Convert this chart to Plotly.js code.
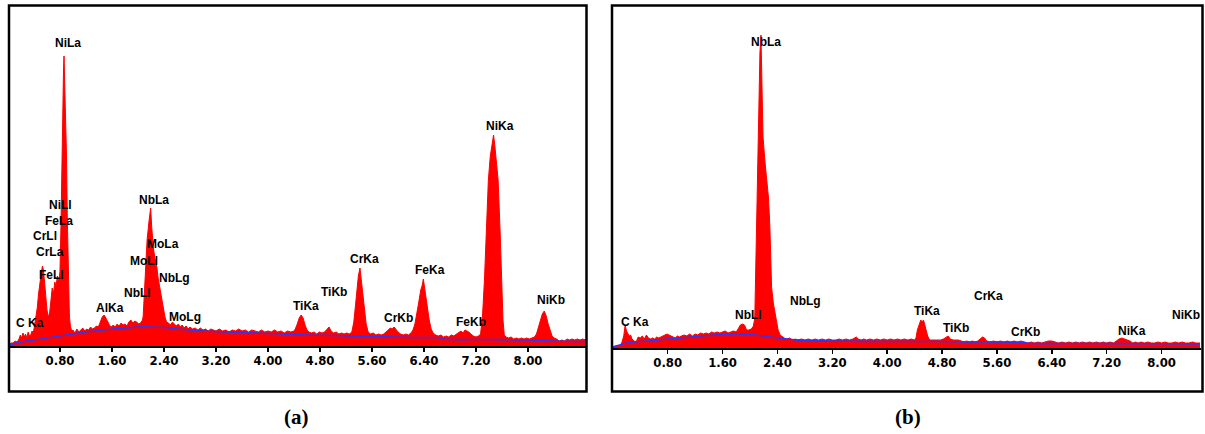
<!DOCTYPE html>
<html>
<head>
<meta charset="utf-8">
<script src="https://cdn.plot.ly/plotly-3.0.1.min.js"></script>
<style>html,body{margin:0;padding:0;background:#fff;}#chart{width:1205px;height:434px;}</style>
</head>
<body>
<div id="chart"></div>
<script>
// ---------- Panel (a) spectrum: energy (keV) and intensity ----------
var energyA = [0.02,0.05,0.08,0.11,0.14,0.17,0.19,0.21,0.23,0.25,0.27,0.29,0.31,0.33,0.35,0.37,0.39,0.41,0.43,0.45,0.47,0.49,0.51,0.53,0.545,0.56,0.58,0.60,0.62,0.64,0.66,0.68,0.70,0.72,0.74,0.76,0.78,0.80,0.815,0.826,0.838,0.854,0.862,0.872,0.885,0.90,0.912,0.93,0.945,0.96,0.98,1.00,1.03,1.06,1.09,1.12,1.15,1.18,1.21,1.24,1.27,1.30,1.33,1.36,1.39,1.42,1.45,1.48,1.50,1.53,1.56,1.59,1.62,1.65,1.68,1.71,1.74,1.77,1.80,1.83,1.86,1.89,1.92,1.95,1.98,2.01,2.04,2.07,2.08,2.11,2.14,2.17,2.195,2.21,2.235,2.26,2.29,2.31,2.34,2.365,2.39,2.415,2.44,2.47,2.50,2.53,2.56,2.59,2.62,2.65,2.68,2.71,2.74,2.77,2.80,2.84,2.88,2.92,2.96,3.00,3.04,3.08,3.12,3.16,3.20,3.25,3.30,3.35,3.40,3.45,3.50,3.55,3.60,3.65,3.70,3.75,3.80,3.85,3.90,3.95,4.00,4.05,4.10,4.15,4.20,4.25,4.30,4.35,4.40,4.42,4.45,4.48,4.51,4.54,4.57,4.60,4.63,4.67,4.71,4.75,4.79,4.83,4.87,4.91,4.94,4.97,5.01,5.05,5.09,5.13,5.17,5.21,5.25,5.29,5.32,5.345,5.37,5.39,5.415,5.44,5.46,5.48,5.51,5.54,5.58,5.62,5.66,5.70,5.74,5.78,5.82,5.85,5.88,5.91,5.94,5.97,6.00,6.04,6.08,6.12,6.16,6.20,6.23,6.26,6.29,6.32,6.35,6.37,6.39,6.41,6.43,6.45,6.48,6.51,6.54,6.58,6.62,6.66,6.70,6.74,6.78,6.82,6.86,6.90,6.94,6.97,7.00,7.03,7.06,7.09,7.12,7.16,7.20,7.24,7.27,7.30,7.33,7.36,7.39,7.42,7.45,7.47,7.49,7.51,7.54,7.57,7.595,7.615,7.635,7.66,7.70,7.74,7.78,7.82,7.86,7.90,7.94,7.98,8.02,8.06,8.10,8.13,8.16,8.19,8.22,8.25,8.28,8.31,8.34,8.37,8.40,8.44,8.48,8.52,8.56,8.60,8.64,8.68,8.72,8.76,8.80,8.84,8.89];
var countsA = [2,3,3,5,4,7,11,8,13,9,12,8,14,10,11,15,13,20,27,38,52,64,72,80,76,66,50,36,29,33,45,58,52,64,60,70,64,75,120,178,230,275,290,268,240,190,130,60,30,20,15,16,13,17,14,16,18,15,17,16,19,17,18,20,19,24,29,31,28,25,21,19,21,19,22,20,23,21,22,20,24,26,23,25,24,22,23,26,30,73,106,125,138,120,99,88,79,68,56,45,36,29,24,23,21,24,22,20,22,19,21,18,20,17,19,17,18,16,18,16,17,15,17,16,15,17,15,16,14,16,15,17,15,16,14,16,15,14,16,14,15,14,16,14,15,13,15,14,15,17,22,28,31,28,21,16,14,13,14,12,14,13,14,17,19,15,13,14,12,13,12,13,12,14,24,40,58,70,78,64,48,36,22,14,12,13,11,12,11,12,14,16,18,17,19,16,14,12,11,12,11,13,16,22,32,44,56,60,67,58,50,38,26,17,13,11,10,11,9,10,9,11,10,12,14,15,13,16,15,14,12,10,9,10,12,30,66,116,166,190,205,211,200,185,166,116,66,26,11,9,8,9,7,8,7,8,7,8,7,8,9,12,18,26,32,35,30,22,15,10,8,7,5,6,5,7,6,7,6,7,6,7,6];
// Panel (a) background fit
var bgEnergyA = [0.02,0.2,0.4,0.6,0.8,1.0,1.2,1.4,1.6,1.8,2.0,2.2,2.4,2.6,2.8,3.0,3.4,3.8,4.2,4.6,5.0,5.6,6.2,6.66,6.7,7.4,8.0,8.4,8.89];
var bgCountsA = [1,4,6,8,10,12,14,15.5,17,18,19,19,18.5,17,16,15,14,13,12,11,10.5,9.5,8.5,8,7,6.5,6,5,4.5];
// Panel (a) peak labels
var labelsA = ["NiLa","NiLl","FeLa","CrLl","CrLa","FeLl","C Ka","AlKa","NbLl","NbLa","MoLa","MoLl","NbLg","MoLg","TiKa","TiKb","CrKa","CrKb","FeKa","FeKb","NiKa","NiKb"];
var labelXA = [0.923,0.815,0.785,0.569,0.646,0.677,0.346,1.569,1.985,2.246,2.385,2.10,2.554,2.723,4.585,5.015,5.492,6.015,6.492,7.123,7.569,8.346];
var labelYA = [303,141,125,110,94,71,23,38,53,146,102,85,68,29,40,54,87,28,76,24,220,46];

// ---------- Panel (b) spectrum ----------
var energyB = [0.00,0.05,0.10,0.13,0.16,0.18,0.20,0.22,0.24,0.26,0.28,0.31,0.34,0.37,0.40,0.43,0.46,0.49,0.52,0.55,0.58,0.61,0.64,0.67,0.70,0.73,0.76,0.79,0.82,0.85,0.88,0.91,0.94,0.97,1.00,1.04,1.08,1.12,1.16,1.20,1.24,1.28,1.32,1.36,1.40,1.44,1.48,1.52,1.56,1.60,1.64,1.68,1.72,1.76,1.80,1.83,1.86,1.89,1.92,1.95,1.98,2.02,2.05,2.07,2.10,2.12,2.145,2.16,2.175,2.19,2.22,2.24,2.27,2.29,2.315,2.34,2.365,2.39,2.41,2.44,2.47,2.50,2.54,2.58,2.62,2.66,2.70,2.75,2.80,2.85,2.90,2.95,3.00,3.05,3.10,3.15,3.20,3.25,3.30,3.35,3.40,3.45,3.50,3.55,3.58,3.62,3.66,3.70,3.75,3.80,3.85,3.90,3.95,4.00,4.05,4.10,4.15,4.20,4.25,4.30,4.35,4.40,4.42,4.44,4.47,4.49,4.51,4.53,4.56,4.59,4.62,4.66,4.70,4.74,4.78,4.82,4.86,4.89,4.92,4.96,5.00,5.04,5.08,5.12,5.16,5.20,5.24,5.28,5.32,5.36,5.39,5.42,5.45,5.50,5.55,5.60,5.65,5.70,5.75,5.80,5.85,5.90,5.95,6.00,6.05,6.10,6.15,6.20,6.25,6.30,6.35,6.40,6.45,6.50,6.55,6.60,6.65,6.70,6.75,6.80,6.85,6.90,6.95,7.00,7.05,7.10,7.15,7.20,7.25,7.30,7.34,7.38,7.42,7.46,7.50,7.54,7.58,7.62,7.66,7.70,7.75,7.80,7.85,7.90,7.95,8.00,8.05,8.10,8.15,8.20,8.25,8.30,8.35,8.40,8.45,8.50,8.56];
var countsB = [1,2,2,5,12,23,17,15,12,13,9,7,6,11,10,12,9,13,10,9,10,9,11,10,11,12,13,14,13,12,11,10,12,11,12,13,12,14,12,14,13,15,14,15,14,16,15,16,15,16,17,15,16,17,16,19,23,24,23,18,18,19,22,30,128,228,295,313,260,211,185,171,150,121,61,45,35,24,18,13,11,10,9,10,8,9,8,9,8,9,8,9,8,9,8,9,8,8,9,8,9,8,9,11,9,8,9,8,9,8,9,8,9,8,9,8,9,8,9,8,9,8,10,18,24,28,26,28,20,12,8,8,8,8,8,9,11,12,9,8,8,8,7,6,7,6,7,6,7,9,11,10,7,6,7,6,7,6,7,6,7,6,7,6,5,6,5,6,5,6,7,7,6,5,6,5,6,5,6,5,6,5,6,5,6,5,6,5,6,5,7,9,10,9,8,7,5,6,5,6,5,6,5,5,6,5,6,5,5,6,5,6,5,5,6,5,5];
var bgEnergyB = [0.00,0.1,0.2,0.4,0.6,0.8,1.0,1.2,1.4,1.6,1.8,2.0,2.2,2.4,2.6,2.8,3.2,4.0,4.6,5.0,5.1,6.0,6.05,7.0,8.0,8.56];
var bgCountsB = [1,3,5,6.5,7.5,9,10,11.5,12.5,13.5,14,13.5,12,10,8.5,7.5,7,6.5,6.5,6.3,6,5.5,4.8,4.5,4.2,4];
var labelsB = ["NbLa","C Ka","NbLl","NbLg","TiKa","TiKb","CrKa","CrKb","NiKa","NiKb"];
var labelXB = [2.233,0.324,1.971,2.816,4.587,5.0,5.484,6.023,7.576,8.356];
var labelYB = [306,26,33,47,37,20,52,16,17,33];

// ---------- Axis ticks ----------
var tickValues = [0.8,1.6,2.4,3.2,4.0,4.8,5.6,6.4,7.2,8.0];
var tickLabels = ["0.80","1.60","2.40","3.20","4.00","4.80","5.60","6.40","7.20","8.00"];
var panelCaptions = ["(a)","(b)"];

// ---------- Build ----------
var W = 1205, H = 434;
function px(x){return x / W;}
function py(y){return 1 - y / H;}

var red = "#ff0000", blue = "#3434f0";
var traces = [
  {x: energyA, y: countsA, xaxis:"x", yaxis:"y", type:"scatter", mode:"lines", fill:"tozeroy",
   fillcolor: red, line:{color: red, width:1}, hoverinfo:"skip"},
  {x: bgEnergyA, y: bgCountsA, xaxis:"x", yaxis:"y", type:"scatter", mode:"lines",
   line:{color: blue, width:1.6, shape:"spline"}, hoverinfo:"skip"},
  {x: energyB, y: countsB, xaxis:"x2", yaxis:"y2", type:"scatter", mode:"lines", fill:"tozeroy",
   fillcolor: red, line:{color: red, width:1}, hoverinfo:"skip"},
  {x: bgEnergyB, y: bgCountsB, xaxis:"x2", yaxis:"y2", type:"scatter", mode:"lines",
   line:{color: blue, width:1.6, shape:"spline"}, hoverinfo:"skip"}
];

var tickFont = {family:"'Liberation Sans Narrow','Arial Narrow','DejaVu Sans Condensed',sans-serif", size:13, color:"#000", weight:"bold"};
var labelFont = {family:"'Liberation Sans',Arial,sans-serif", size:12, color:"#000", weight:"bold"};

function xAxis(domain, range, anchor){
  return {domain: domain, range: range, anchor: anchor, showgrid:false, zeroline:false,
    showline:true, linecolor:"#000", linewidth:2, ticks:"outside", ticklen:4, tickwidth:1.5,
    tickcolor:"#000", tickmode:"array", tickvals: tickValues, ticktext: tickLabels,
    tickfont: tickFont, ticklabelstandoff:-3, fixedrange:true};
}

var annotations = [];
labelsA.forEach(function(t,i){
  annotations.push({text:t, x:labelXA[i], y:labelYA[i], xref:"x", yref:"y", showarrow:false,
    xanchor:"center", yanchor:"middle", font:labelFont});
});
labelsB.forEach(function(t,i){
  annotations.push({text:t, x:labelXB[i], y:labelYB[i], xref:"x2", yref:"y2", showarrow:false,
    xanchor:"center", yanchor:"middle", font:labelFont});
});
var capFont = {family:"'Liberation Serif','Times New Roman',serif", size:21, color:"#000", weight:"bold"};
annotations.push({text:panelCaptions[0], x:px(296), y:py(417), xref:"paper", yref:"paper", showarrow:false, xanchor:"center", yanchor:"middle", font:capFont});
annotations.push({text:panelCaptions[1], x:px(908), y:py(417), xref:"paper", yref:"paper", showarrow:false, xanchor:"center", yanchor:"middle", font:capFont});

var frameLine = {color:"#000", width:2.5};
var shapes = [
  {type:"rect", xref:"paper", yref:"paper", x0:px(9), x1:px(586.5), y0:py(391.5), y1:py(5.5), line:frameLine, fillcolor:"rgba(0,0,0,0)"},
  {type:"rect", xref:"paper", yref:"paper", x0:px(612), x1:px(1202.5), y0:py(391.5), y1:py(5.5), line:frameLine, fillcolor:"rgba(0,0,0,0)"}
];

var layout = {
  width: W, height: H, margin:{l:0,r:0,t:0,b:0}, paper_bgcolor:"#fff", plot_bgcolor:"#fff",
  showlegend:false,
  xaxis: xAxis([px(10), px(586)], [0.031, 8.892], "y"),
  yaxis: {domain:[py(346), py(8)], range:[0,338], visible:false, fixedrange:true},
  xaxis2: xAxis([px(613), px(1201)], [0.003, 8.575], "y2"),
  yaxis2: {domain:[py(348), py(8)], range:[0,340], visible:false, fixedrange:true},
  annotations: annotations, shapes: shapes
};

Plotly.newPlot("chart", traces, layout, {displayModeBar:false, staticPlot:true});
</script>
</body>
</html>
